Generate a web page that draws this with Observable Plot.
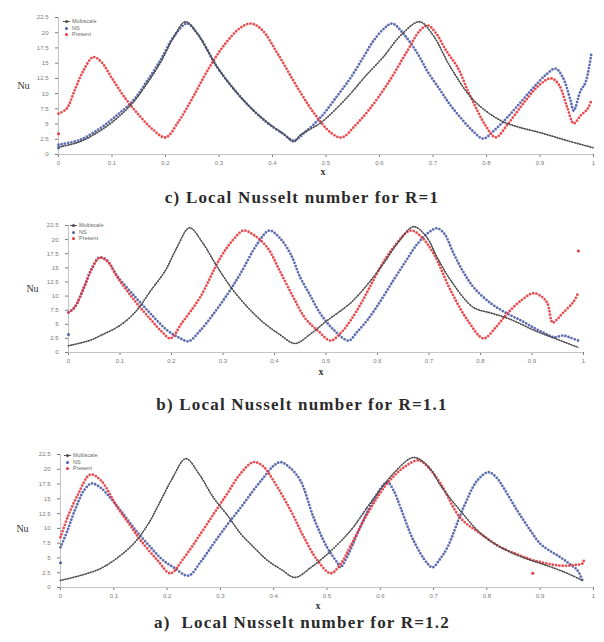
<!DOCTYPE html>
<html><head><meta charset="utf-8">
<script src="https://cdn.jsdelivr.net/npm/d3@7"></script>
<script src="https://cdn.jsdelivr.net/npm/@observablehq/plot@0.6"></script>
<style>
body{margin:0;background:#fff;}
#wrap{position:relative;width:604px;height:642px;overflow:hidden;background:#fff;}
.panel{position:absolute;left:0;}
.cap{position:absolute;left:0;width:604px;text-align:center;font-family:"Liberation Serif","Times New Roman",serif;font-weight:bold;font-size:17px;letter-spacing:1.2px;color:#2a2a2a;line-height:20px;}
.leg{position:absolute;font-family:"Liberation Sans",Arial,sans-serif;font-size:5.5px;color:#666;line-height:6.6px;}
.leg div{white-space:nowrap;}
.mk{display:inline-block;position:relative;width:7px;height:5px;vertical-align:middle;margin-right:2px;}
.mk i{position:absolute;left:2px;top:1px;width:3px;height:3px;border-radius:50%;}
.mk b{position:absolute;left:0;top:2px;width:7px;height:1px;background:#555;}
</style>
</head><body>
<div id="wrap"></div>
<script>
// ---------- shared axes ----------
const xTicks = [0, 0.1, 0.2, 0.3, 0.4, 0.5, 0.6, 0.7, 0.8, 0.9, 1];
const yTicks = [0, 2.5, 5, 7.5, 10, 12.5, 15, 17.5, 20, 22.5];
const seriesNames = ["Multiscale", "NS", "Present"];
const captions = ["c) Local Nusselt number for R=1", "b) Local Nusselt number for R=1.1", "a)\u00a0 Local Nusselt number for R=1.2"];

// ---------- panel c : R = 1 ----------
const c_black = [[0,1.2],[0.04,2.1],[0.078,3.9],[0.11,6],[0.14,8.6],[0.165,11.6],[0.19,15],[0.215,19.2],[0.237,21.8],[0.26,19.8],[0.297,14.3],[0.33,10.5],[0.359,7.7],[0.39,5.3],[0.42,3.4],[0.44,2.1],[0.452,3.2],[0.49,5.2],[0.52,7.6],[0.546,10],[0.575,13],[0.607,16],[0.64,19.6],[0.675,21.8],[0.7,19.6],[0.733,14.3],[0.776,8.9],[0.826,5.6],[0.86,4.5],[0.9,3.6],[0.95,2.3],[1,1.1]];
const c_blue = [[0,1.6],[0.04,2.4],[0.078,4.3],[0.11,6.5],[0.14,8.9],[0.165,12],[0.19,15.4],[0.215,19.3],[0.24,21.5],[0.26,19.8],[0.297,14.3],[0.33,10.5],[0.359,7.7],[0.39,5.2],[0.42,3.4],[0.44,2.3],[0.46,3.6],[0.49,6.1],[0.52,9.5],[0.546,12.6],[0.57,16],[0.589,18.7],[0.61,20.8],[0.624,21.5],[0.645,19.8],[0.671,16.6],[0.69,13.6],[0.714,10.5],[0.73,8.4],[0.751,6.1],[0.775,3.8],[0.794,2.6],[0.815,4],[0.839,6.1],[0.865,8.7],[0.888,11],[0.91,13],[0.929,14.1],[0.943,12.6],[0.957,8.9],[0.963,7.2],[0.976,10.5],[0.985,11.8],[0.996,16.6]];
const c_red = [[0,6.7],[0.015,7.5],[0.03,10.5],[0.045,13.5],[0.065,16],[0.08,15.2],[0.1,12.5],[0.125,9.2],[0.15,6.5],[0.175,4.2],[0.2,2.8],[0.225,5.5],[0.25,9.2],[0.28,14],[0.31,18],[0.34,20.8],[0.36,21.5],[0.38,20.5],[0.41,16.5],[0.45,10.5],[0.48,6.5],[0.51,3.5],[0.53,2.8],[0.555,4.8],[0.58,7.3],[0.615,11.6],[0.652,17],[0.675,20.3],[0.69,21.2],[0.705,20],[0.725,17],[0.746,14.3],[0.765,10.5],[0.783,7.2],[0.8,4.5],[0.817,2.8],[0.84,5],[0.87,8.5],[0.9,11.5],[0.921,12.5],[0.935,11.5],[0.951,7.7],[0.963,5.1],[0.976,6.4],[0.989,7.5],[0.996,8.9]];
const c_extraBlue = [[0,1.1]];
const c_extraRed = [[0,3.4]];

// ---------- panel b : R = 1.1 ----------
const b_black = [[0,1.2],[0.04,2.1],[0.062,3],[0.1,4.8],[0.13,7.2],[0.16,11],[0.188,14.5],[0.21,18.5],[0.235,22.1],[0.26,19.5],[0.29,15],[0.32,11],[0.35,7.8],[0.38,5.2],[0.41,3.2],[0.44,1.6],[0.47,3.3],[0.5,5.5],[0.548,8.8],[0.58,12],[0.612,15.8],[0.64,19.5],[0.67,22.3],[0.695,20.5],[0.715,17],[0.742,12.8],[0.786,8],[0.82,7],[0.855,6],[0.905,3.9],[0.95,2.3],[0.99,0.9]];
const b_blue = [[0,7.1],[0.012,8],[0.03,11.5],[0.045,14.8],[0.06,16.8],[0.075,16.3],[0.095,13.5],[0.13,9.8],[0.159,6.9],[0.192,3.9],[0.215,2.6],[0.233,2.0],[0.255,3.8],[0.282,6.9],[0.31,10.5],[0.334,14],[0.367,19.3],[0.39,21.6],[0.41,20.3],[0.431,17.5],[0.45,13.3],[0.47,10],[0.489,6.9],[0.515,4],[0.544,2.1],[0.56,3.6],[0.58,5.7],[0.605,9],[0.631,12.8],[0.655,16.2],[0.678,19.3],[0.7,21.3],[0.716,22],[0.73,21],[0.748,17.5],[0.767,14.2],[0.787,11.5],[0.82,8.7],[0.852,6.9],[0.88,5.6],[0.903,4.4],[0.925,3.4],[0.942,2.7],[0.961,3],[0.975,2.6],[0.99,2.1]];
const b_red = [[0,7.1],[0.012,8],[0.03,11.5],[0.045,14.8],[0.06,16.8],[0.075,16.2],[0.095,13.3],[0.13,9],[0.16,5.8],[0.18,3.8],[0.198,2.5],[0.22,5.2],[0.255,9.7],[0.295,16.8],[0.32,20],[0.34,21.6],[0.36,20.8],[0.386,18.6],[0.41,14.5],[0.437,9.7],[0.46,6],[0.485,3.8],[0.509,2.1],[0.53,3.6],[0.548,5.7],[0.57,9],[0.592,12.8],[0.61,15.8],[0.631,18.6],[0.664,21.6],[0.685,20.5],[0.709,17.5],[0.742,11],[0.775,5.7],[0.806,2.5],[0.83,4.5],[0.852,6.9],[0.88,9.3],[0.903,10.5],[0.92,9.8],[0.93,8.7],[0.94,5.3],[0.95,6],[0.961,7.1],[0.98,8.9],[0.99,10.6]];
const b_extraBlue = [[0,3.2]];
const b_extraRed = [[0.99,18]];

// ---------- panel a : R = 1.2 ----------
const a_black = [[0,1.2],[0.04,2.1],[0.075,3.2],[0.105,4.9],[0.137,7.4],[0.165,10.8],[0.188,14.7],[0.21,18.5],[0.235,21.8],[0.26,19.2],[0.287,15.2],[0.315,12],[0.338,9.1],[0.365,6.6],[0.388,4.6],[0.415,3],[0.44,1.7],[0.47,3.4],[0.5,5.6],[0.544,9.6],[0.575,13.5],[0.6,16.6],[0.63,19.8],[0.662,22],[0.69,20.5],[0.715,17],[0.75,13],[0.79,9],[0.826,6.8],[0.87,5],[0.9,4.1],[0.94,2.8],[0.98,1.2]];
const a_blue = [[0,6.8],[0.013,9.6],[0.022,11.9],[0.032,14.2],[0.044,16.4],[0.058,17.6],[0.075,16.9],[0.095,15],[0.113,13],[0.14,9.8],[0.169,6.8],[0.19,4.8],[0.212,3.4],[0.24,2.0],[0.262,4.2],[0.287,7.4],[0.312,10.5],[0.338,13.5],[0.36,16.2],[0.381,18.6],[0.4,20.6],[0.413,21.2],[0.43,20.3],[0.45,18.1],[0.475,11.8],[0.5,6.8],[0.52,4.1],[0.525,3.4],[0.54,5.6],[0.557,9.1],[0.587,14.7],[0.613,17.8],[0.625,16.4],[0.638,13.5],[0.662,8],[0.688,4.1],[0.698,3.4],[0.712,4.8],[0.726,6.8],[0.756,13.5],[0.782,18.1],[0.803,19.5],[0.818,18.6],[0.831,16.9],[0.857,13],[0.882,9.6],[0.9,7.4],[0.92,6.1],[0.938,5.1],[0.955,4],[0.97,2.9],[0.979,1.2]];
const a_red = [[0,8.5],[0.013,11.8],[0.032,15.6],[0.056,19.1],[0.075,18.2],[0.107,13.5],[0.13,10.6],[0.15,8],[0.182,4.6],[0.206,2.4],[0.23,4.8],[0.263,9.1],[0.29,12.8],[0.313,15.9],[0.338,19.3],[0.362,21.2],[0.38,20.5],[0.4,18],[0.432,13],[0.455,8.8],[0.482,4.6],[0.507,2.4],[0.525,3.9],[0.544,7],[0.576,12.5],[0.613,17.6],[0.644,20.3],[0.672,21.5],[0.69,20.3],[0.713,17.6],[0.75,11.8],[0.788,9.1],[0.826,6.8],[0.86,5.5],[0.887,4.6],[0.938,3.7],[0.965,3.8],[0.98,4.1],[0.982,4.9]];
const a_extraBlue = [[0,4.2]];
const a_extraRed = [[0.886,2.4]];

// ---------- colours ----------
const BLACK = "#4a4a4a", BLUE = "#4d5ca8", RED = "#e8373c";

const panels = [
  {black:c_black, blue:c_blue, red:c_red, xb:c_extraBlue, xr:c_extraRed, top:0, height:180, mt:17, ml:58, mr:11, mb:26, nuDx:-35, nuDy:0, xDy:20, xDx:-3, cap:188, leg:[63,18]},
  {black:b_black, blue:b_blue, red:b_red, xb:b_extraBlue, xr:b_extraRed, top:205, height:173, mt:20, ml:68, mr:21, mb:26, nuDx:-36, nuDy:0, xDy:22, xDx:-5, cap:395, leg:[70,222]},
  {black:a_black, blue:a_blue, red:a_red, xb:a_extraBlue, xr:a_extraRed, top:434, height:179, mt:20, ml:60, mr:11, mb:26, nuDx:-38, nuDy:8, xDy:21, xDx:-9, cap:613, leg:[64,452]}
];

const wrap = document.getElementById("wrap");
const fx = d => d[0], fy = d => d[1];

panels.forEach((p, i) => {
  const chart = Plot.plot({
    width: 604, height: p.height,
    marginTop: p.mt, marginLeft: p.ml, marginRight: p.mr, marginBottom: p.mb,
    x: {domain: [0, 1]},
    y: {domain: [0, 22.5]},
    style: {fontSize: "6px", color: "#7a7a7a", fontFamily: "Liberation Sans, Arial, sans-serif", background: "transparent"},
    marks: [
      Plot.axisX({ticks: xTicks, tickFormat: d => String(d), tickSize: 3, tickPadding: 3, label: null}),
      Plot.axisY({ticks: yTicks, tickFormat: d => String(d), tickSize: 3, tickPadding: 7, label: null}),
      Plot.ruleY([0], {stroke: "#c4c4c4"}),
      Plot.ruleX([0], {stroke: "#c4c4c4"}),
      Plot.line(p.blue, {x: fx, y: fy, stroke: BLUE, strokeWidth: 2.8, strokeDasharray: "0,3.3", strokeLinecap: "round", curve: "catmull-rom", strokeOpacity: 0.9}),
      Plot.line(p.red, {x: fx, y: fy, stroke: RED, strokeWidth: 2.8, strokeDasharray: "0,3.3", strokeLinecap: "round", curve: "catmull-rom", strokeOpacity: 0.9}),
      Plot.line(p.black, {x: fx, y: fy, stroke: BLACK, strokeWidth: 0.9, curve: "catmull-rom"}),
      Plot.line(p.black, {x: fx, y: fy, stroke: BLACK, strokeWidth: 1.8, strokeDasharray: "0,2.6", strokeLinecap: "round", curve: "catmull-rom"}),
      Plot.dot(p.xb, {x: fx, y: fy, r: 1.5, fill: BLUE}),
      Plot.dot(p.xr, {x: fx, y: fy, r: 1.5, fill: RED}),
      Plot.text(["Nu"], {frameAnchor: "left", dx: p.nuDx, dy: p.nuDy, textAnchor: "middle", fontSize: 10, fill: "#333", fontFamily: "Liberation Serif, serif"}),
      Plot.text(["x"], {frameAnchor: "bottom", dx: p.xDx, dy: p.xDy, textAnchor: "middle", fontSize: 10, fill: "#333", fontWeight: "bold", fontFamily: "Liberation Serif, serif"})
    ]
  });
  chart.classList.add("panel");
  chart.style.top = p.top + "px";
  wrap.appendChild(chart);

  const cap = document.createElement("div");
  cap.className = "cap";
  cap.style.top = p.cap + "px";
  cap.textContent = captions[i];
  wrap.appendChild(cap);

  const leg = document.createElement("div");
  leg.className = "leg";
  leg.style.left = p.leg[0] + "px";
  leg.style.top = p.leg[1] + "px";
  const cols = [BLACK, BLUE, RED];
  seriesNames.forEach((n, k) => {
    const row = document.createElement("div");
    row.innerHTML = `<span class="mk">${k === 0 ? "<b></b>" : ""}<i style="background:${cols[k]}"></i></span>${n}`;
    leg.appendChild(row);
  });
  wrap.appendChild(leg);
});
</script>
</body></html>
